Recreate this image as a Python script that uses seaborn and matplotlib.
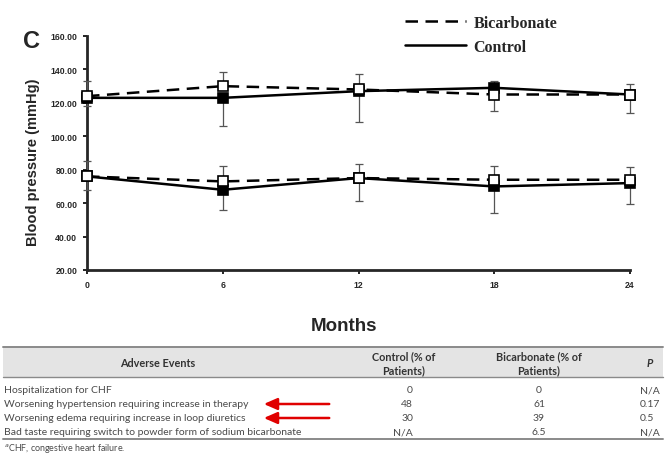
import numpy as np
import pandas as pd
import matplotlib
matplotlib.use("Agg")
import matplotlib.pyplot as plt
import seaborn as sns

# chart data
months = [0, 6, 12, 18, 24]
bicarb_sys = [124, 130, 128, 125, 125]
control_sys = [123, 123, 127, 129, 125]
bicarb_dia = [76, 73, 75, 74, 74]
control_dia = [76, 68, 75, 70, 72]
# one-sided error bars: bicarbonate upward, control downward
bicarb_sys_err = [9, 8.5, 9, 8, 6]
control_sys_err = [5, 17, 18.5, 14, 11]
bicarb_dia_err = [9, 9, 8.5, 8, 7.5]
control_dia_err = [8, 12, 14, 16, 12.5]
y_ticks = [20, 40, 60, 80, 100, 120, 140, 160]

# table data
table_header = ["Adverse Events", "Control (% of\nPatients)", "Bicarbonate (% of\nPatients)", "P"]
events = [
    "Hospitalization for CHF",
    "Worsening hypertension requiring increase in therapy",
    "Worsening edema requiring increase in loop diuretics",
    "Bad taste requiring switch to powder form of sodium bicarbonate",
]
control_pct = ["0", "48", "30", "N/A"]
bicarb_pct = ["0", "61", "39", "6.5"]
p_values = ["N/A", "0.17", "0.5", "N/A"]
flagged_rows = [1, 2]
footnote = "$^{a}$CHF, congestive heart failure."

W, H = 666, 456
sns.set_style("ticks")
fig = plt.figure(figsize=(W / 100, H / 100), dpi=100)

# ---- line chart ----
ax = fig.add_axes([87 / W, 1 - 271 / H, (630 - 87) / W, (271 - 37) / H])

rows = []
for grp, sys_v, dia_v in [("Bicarbonate", bicarb_sys, bicarb_dia), ("Control", control_sys, control_dia)]:
    for m, s, d in zip(months, sys_v, dia_v):
        rows.append({"Months": m, "BP": s, "Group": grp, "Measure": "systolic"})
        rows.append({"Months": m, "BP": d, "Group": grp, "Measure": "diastolic"})
df = pd.DataFrame(rows)

sns.lineplot(data=df, x="Months", y="BP", hue="Group", style="Group", units="Measure",
             estimator=None, hue_order=["Bicarbonate", "Control"],
             palette={"Bicarbonate": "black", "Control": "black"},
             dashes={"Bicarbonate": (5, 3), "Control": ""},
             lw=1.8, ax=ax, legend=True, zorder=2)
handles, labels = ax.get_legend_handles_labels()
ax.get_legend().remove()

zero = [0] * len(months)
err_kw = dict(fmt="none", ecolor="#555555", elinewidth=0.9, capsize=3, capthick=0.9,
              zorder=3, clip_on=False)
ax.errorbar(months, control_sys, yerr=[control_sys_err, zero], **err_kw)
ax.errorbar(months, control_dia, yerr=[control_dia_err, zero], **err_kw)
ax.errorbar(months, bicarb_sys, yerr=[zero, bicarb_sys_err], **err_kw)
ax.errorbar(months, bicarb_dia, yerr=[zero, bicarb_dia_err], **err_kw)

for vals in (control_sys, control_dia):
    ax.plot(months, vals, ls="none", marker="s", ms=6.5, mfc="black", mec="black",
            mew=1.2, zorder=4, clip_on=False)
for vals in (bicarb_sys, bicarb_dia):
    ax.plot(months, vals, ls="none", marker="s", ms=6.5, mfc="white", mec="black",
            mew=1.2, zorder=5, clip_on=False)

ax.set_xlim(0, 24)
ax.set_ylim(20, 160)
ax.set_xticks(months)
ax.set_xticklabels([str(m) for m in months])
ax.set_yticks(y_ticks)
ax.set_yticklabels([f"{v:.2f}" for v in y_ticks])
for lab in ax.get_xticklabels() + ax.get_yticklabels():
    lab.set_fontweight("bold")
    lab.set_fontsize(6.2)
    lab.set_family("Liberation Sans")
ax.tick_params(axis="both", length=3, width=1.2, pad=4, color="black")
sns.despine(ax=ax)
for side in ("left", "bottom"):
    ax.spines[side].set_linewidth(2)
ax.set_xlabel("")
ax.set_ylabel("")

fig.text(33 / W, 1 - 162 / H, "Blood pressure (mmHg)", rotation=90, ha="center", va="center",
         fontsize=10.5, fontweight="bold", family="Liberation Sans")
fig.text(31 / W, 1 - 42 / H, "C", ha="center", va="center", fontsize=17,
         fontweight="bold", family="Liberation Sans")
fig.text(344 / W, 1 - 327 / H, "Months", ha="center", va="center", fontsize=13.5,
         fontweight="bold", family="Liberation Sans")

fig.legend(handles, labels, loc="upper left", bbox_to_anchor=(397 / W, 1 - 8 / H),
           frameon=False, borderpad=0, handlelength=3.8, handletextpad=0.5,
           labelspacing=0.5, prop={"family": "Liberation Serif", "weight": "bold", "size": 11.5})

# ---- table below ----
tx = fig.add_axes([0, 0, 1, 1])
tx.set_xlim(0, W)
tx.set_ylim(H, 0)
tx.axis("off")
tx.patch.set_visible(False)

gray = "#4a4a4a"
tfont = dict(family="Lato", fontsize=7.5, color=gray)
tx.fill_between([3, 663], 348, 378, color="#e4e4e4", lw=0)
tx.plot([3, 663], [348, 348], color="#8a8a8a", lw=1.4)
tx.plot([3, 663], [378, 378], color="#8a8a8a", lw=1.0)
tx.plot([3, 663], [440, 440], color="#8a8a8a", lw=1.4)

col_x = [158, 404, 539, 650]
for i, (cx, txt) in enumerate(zip(col_x, table_header)):
    style = "italic" if txt == "P" else "normal"
    tx.text(cx, 364, txt, ha="center", va="center", fontweight="bold", style=style,
            linespacing=1.3, family="Lato", fontsize=7.8, color="#333333")

row_y = [391, 405, 419, 433]
for y, ev, c, b, p in zip(row_y, events, control_pct, bicarb_pct, p_values):
    tx.text(4, y, ev, ha="left", va="center", **tfont)
    tx.text(413, y, c, ha="right", va="center", **tfont)
    tx.text(539, y, b, ha="center", va="center", **tfont)
    tx.text(640, y, p, ha="left", va="center", **tfont)

for r in flagged_rows:
    tx.annotate("", xy=(261, row_y[r]), xytext=(332, row_y[r]),
                arrowprops=dict(arrowstyle="-|>,head_length=0.8,head_width=0.35",
                                color="#e00000", lw=1.8))

tx.text(4, 449, footnote, ha="left", va="center", family="Lato", fontsize=6.4, color=gray)

fig.savefig("out.png", dpi=100)
